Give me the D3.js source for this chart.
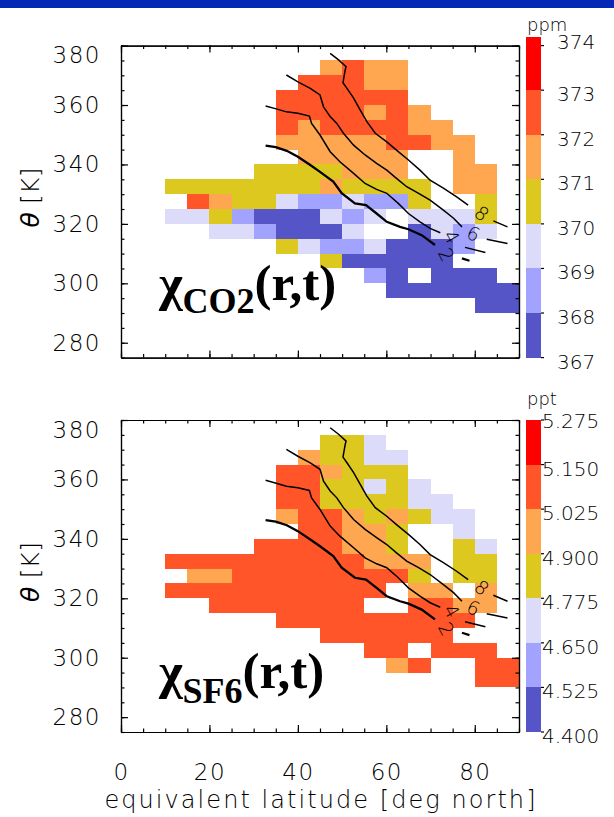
<!DOCTYPE html>
<html>
<head>
<meta charset="utf-8">
<script src="https://cdn.jsdelivr.net/npm/d3@7"></script>
<style>
  body { margin: 0; background: #fff; }
</style>
</head>
<body>
<div id="chart"></div>
<script>
// cell lower edges (5 deg x 5 K boxes)
const latEdges = [10, 15, 20, 25, 30, 35, 40, 45, 50, 55, 60, 65, 70, 75, 80, 85];
const thetaRows = [370, 365, 360, 355, 350, 345, 340, 335, 330, 325, 320, 315, 310, 305, 300, 295, 290];

const xTicks = [0, 20, 40, 60, 80];
const yTicks = [280, 300, 320, 340, 360, 380];

const co2Levels = [367, 368, 369, 370, 371, 372, 373, 374];
const co2Labels = ['367', '368', '369', '370', '371', '372', '373', '374'];
const sf6Levels = [4.400, 4.525, 4.650, 4.775, 4.900, 5.025, 5.150, 5.275];
const sf6Labels = ['4.400', '4.525', '4.650', '4.775', '4.900', '5.025', '5.150', '5.275'];

const bandColors = ['#5555c8', '#a2a2ff', '#dcdcfa', '#dcc81e', '#ffa650', '#ff5528', '#ff0000'];

const _ = null;
// CO2 mixing ratio, ppm (rows = thetaRows, columns = latEdges)
const co2Grid = [
  [_, _, _, _, _, _, _, 371.5, 372.5, 371.5, 371.5, _, _, _, _, _],
  [_, _, _, _, _, _, 372.5, 372.5, 372.5, 371.5, 371.5, _, _, _, _, _],
  [_, _, _, _, _, 372.5, 372.5, 372.5, 372.5, 372.5, 372.5, _, _, _, _, _],
  [_, _, _, _, _, 372.5, 372.5, 372.5, 372.5, 371.5, 372.5, 371.5, _, _, _, _],
  [_, _, _, _, _, 372.5, 371.5, 372.5, 372.5, 372.5, 372.5, 371.5, 371.5, _, _, _],
  [_, _, _, _, _, 371.5, 371.5, 371.5, 371.5, 371.5, 372.5, 372.5, 371.5, 371.5, _, _],
  [_, _, _, _, _, _, 371.5, 371.5, 371.5, 371.5, 371.5, _, _, 371.5, _, _],
  [_, _, _, _, 370.5, 370.5, 370.5, 370.5, 371.5, 371.5, 371.5, _, _, 371.5, 371.5, _],
  [370.5, 370.5, 370.5, 370.5, 370.5, 370.5, 370.5, 371.5, 370.5, 370.5, 370.5, 370.5, _, 371.5, 371.5, _],
  [_, 372.5, 371.5, 370.5, 370.5, 369.5, 368.5, 368.5, 369.5, 368.5, 368.5, 370.5, _, _, 370.5, _],
  [369.5, 369.5, 370.5, 368.5, 367.5, 367.5, 367.5, 369.5, 368.5, 369.5, _, 369.5, 369.5, 369.5, 370.5, _],
  [_, _, 369.5, 369.5, 368.5, 367.5, 367.5, 367.5, 369.5, _, _, 367.5, 369.5, 368.5, 369.5, _],
  [_, _, _, _, _, 370.5, 369.5, 368.5, 368.5, 369.5, 367.5, 367.5, 367.5, 368.5, _, _],
  [_, _, _, _, _, _, _, 370.5, 367.5, 367.5, 367.5, 367.5, 367.5, _, _, _],
  [_, _, _, _, _, _, _, _, _, 368.5, 367.5, _, 367.5, 367.5, 367.5, _],
  [_, _, _, _, _, _, _, _, _, _, 367.5, 367.5, 367.5, 367.5, 367.5, 367.5],
  [_, _, _, _, _, _, _, _, _, _, _, _, _, _, 367.5, 367.5]
];

// SF6 mixing ratio, ppt
const sf6Grid = [
  [_, _, _, _, _, _, _, 4.84, 4.84, 4.71, _, _, _, _, _, _],
  [_, _, _, _, _, _, 4.96, 4.84, 4.84, 4.71, 4.71, _, _, _, _, _],
  [_, _, _, _, _, 5.09, 5.09, 4.96, 4.84, 4.84, 4.84, _, _, _, _, _],
  [_, _, _, _, _, 5.09, 5.09, 4.84, 4.84, 4.71, 4.84, 4.71, _, _, _, _],
  [_, _, _, _, _, 5.09, 5.09, 4.84, 4.84, 4.84, 4.84, 4.71, 4.71, _, _, _],
  [_, _, _, _, _, 4.96, 5.09, 5.09, 4.96, 4.84, 4.96, 4.84, 4.71, 4.71, _, _],
  [_, _, _, _, _, _, 5.09, 5.09, 4.96, 4.96, 4.84, _, _, 4.71, _, _],
  [_, _, _, _, 5.09, 5.09, 5.09, 5.09, 4.96, 4.96, 4.84, _, _, 4.84, 4.71, _],
  [5.09, 5.09, 5.09, 5.09, 5.09, 5.09, 5.09, 5.09, 5.09, 4.96, 4.96, 4.96, _, 4.84, 4.84, _],
  [_, 4.96, 4.96, 5.09, 5.09, 5.09, 5.09, 5.09, 5.09, 5.09, 5.09, 4.84, _, 4.84, 4.84, _],
  [5.09, 5.09, 5.09, 5.09, 5.09, 5.09, 5.09, 5.09, 5.09, 5.09, _, 4.96, 4.96, _, 4.96, _],
  [_, _, 5.09, 5.09, 5.09, 5.09, 5.09, 5.09, 5.09, _, _, 5.09, 5.09, 4.96, 4.96, _],
  [_, _, _, _, _, 5.09, 5.09, 5.09, 5.09, 5.09, 5.09, 5.09, 5.09, 5.09, _, _],
  [_, _, _, _, _, _, _, 5.09, 5.09, 5.09, 5.09, 5.09, 5.09, _, _, _],
  [_, _, _, _, _, _, _, _, _, 5.09, 5.09, _, 5.09, 5.09, 5.09, _],
  [_, _, _, _, _, _, _, _, _, _, 4.96, 5.09, _, _, 5.09, 5.09],
  [_, _, _, _, _, _, _, _, _, _, _, _, _, _, 5.09, 5.09]
];

// contour lines [lat, theta], with the short piece after each label
const contourLabels = ['2', '4', '6', '8'];
const contourLines = [
  [[32.7,346.3],[35.0,345.8],[37.5,344.6],[40.0,342.6],[42.8,339.8],[45.0,337.5],[48.0,334.2],[49.9,330.3],[52.9,326.9],[55.4,326.3],[57.8,323.5],[60.1,320.7],[63.1,319.0],[65.0,318.2],[68.0,316.2],[71.0,312.9]],
  [[32.7,359.7],[35.1,358.7],[37.4,357.7],[40.0,357.2],[42.6,356.3],[43.1,353.8],[45.0,349.9],[47.3,344.3],[49.5,340.9],[52.6,337.0],[55.2,333.6],[57.8,331.6],[60.1,330.3],[62.7,326.9],[65.0,323.5],[67.6,320.7],[69.9,318.5],[72.2,317.0]],
  [[37.4,370.1],[40.0,367.8],[42.8,365.6],[45.0,363.4],[45.8,359.4],[47.3,356.1],[48.8,353.8],[50.3,350.5],[52.6,346.5],[55.2,343.2],[57.8,340.4],[60.1,338.1],[62.3,335.3],[64.6,332.5],[67.3,330.3],[69.9,328.0],[72.9,324.6],[75.2,321.9],[77.1,319.0]],
  [[47.3,377.4],[49.2,375.2],[50.9,372.9],[50.7,371.8],[50.2,367.5],[51.1,365.6],[52.6,362.3],[54.1,358.3],[55.6,354.4],[57.5,350.5],[60.1,347.6],[62.3,344.8],[65.0,341.5],[67.6,338.1],[69.9,334.7],[72.9,332.0],[75.9,329.1],[78.5,326.3]]
];
const contourTails = [
  [[77.1,308.4],[78.8,307.6]],
  [[77.8,312.1],[82.4,310.4]],
  [[82.7,314.8],[87.4,313.4]],
  [[84.2,321.0],[87.4,319.0]]
];
const contourLabelPos = [[73.6,309.7],[74.8,315.7],[79.7,316.8],[81.6,323.6]];

const W = 614, H = 817;
const SANS = '"DejaVu Sans", sans-serif';
const SERIF = '"Liberation Serif", "Times New Roman", Times, serif';
const svg = d3.select('#chart').append('svg').attr('width', W).attr('height', H)
  .attr('font-family', SANS);

svg.append('rect').attr('x', 0).attr('y', 0).attr('width', W).attr('height', 8).attr('fill', '#0626b6');

const plotLeft = 121, plotW = 398, plotH = 312;
const x = d3.scaleLinear().domain([0, 90]).range([plotLeft, plotLeft + plotW]);

const panels = [
  { top: 45.6, grid: co2Grid, levels: co2Levels, labels: co2Labels, unit: 'ppm', sub: 'CO2',
    cbExtra: 8.5, cbLabelX: 557, topLabDy: -4, xLabels: false, textY: 300, subDy: 13 },
  { top: 420, grid: sf6Grid, levels: sf6Levels, labels: sf6Labels, unit: 'ppt', sub: 'SF6',
    cbExtra: 0, cbLabelX: 542, topLabDy: 1, xLabels: true, textY: 688, subDy: 15 }
];

panels.forEach(p => {
  const y = d3.scaleLinear().domain([275, 380]).range([p.top + plotH, p.top]);
  const color = d3.scaleThreshold().domain(p.levels.slice(1, -1)).range(bandColors);
  const g = svg.append('g');

  // cells
  const cells = [];
  p.grid.forEach((row, i) => row.forEach((v, j) => {
    if (v !== null) cells.push({ lat: latEdges[j], th: thetaRows[i], v });
  }));
  g.append('g').attr('shape-rendering', 'crispEdges')
    .selectAll('rect').data(cells).enter().append('rect')
    .attr('x', d => x(d.lat))
    .attr('y', d => y(d.th + 5))
    .attr('width', d => x(d.lat + 5) - x(d.lat))
    .attr('height', d => y(d.th) - y(d.th + 5))
    .attr('fill', d => color(d.v));

  // contours
  const line = d3.line().x(d => x(d[0])).y(d => y(d[1]));
  contourLines.forEach((c, k) => {
    const sw = k === 0 ? 2.3 : 1.5;
    g.append('path').attr('d', line(c)).attr('fill', 'none').attr('stroke', '#000').attr('stroke-width', sw);
    g.append('path').attr('d', line(contourTails[k])).attr('fill', 'none').attr('stroke', '#000').attr('stroke-width', sw);
  });
  const rot = [62, 60, 25, 40];
  contourLabels.forEach((t, k) => {
    const px = x(contourLabelPos[k][0]), py = y(contourLabelPos[k][1]);
    g.append('text').attr('x', px).attr('y', py)
      .attr('text-anchor', 'middle').attr('dominant-baseline', 'central')
      .attr('font-size', 19).attr('font-weight', 300)
      .attr('transform', `rotate(${rot[k]},${px},${py})`)
      .text(t);
  });

  // axes
  const minorX = d3.range(0, 91, 5), minorY = d3.range(275, 381, 5);
  const ax = (a, s, vals, len) => a(s).tickValues(vals).tickSizeInner(-len).tickSizeOuter(0).tickFormat('');
  g.append('g').attr('transform', `translate(0,${p.top + plotH})`).call(ax(d3.axisBottom, x, minorX, 3.5));
  g.append('g').attr('transform', `translate(0,${p.top})`).call(ax(d3.axisTop, x, minorX, 3.5));
  g.append('g').attr('transform', `translate(0,${p.top})`).call(ax(d3.axisTop, x, xTicks, 7));
  g.append('g').attr('transform', `translate(${plotLeft},0)`).call(ax(d3.axisLeft, y, minorY, 3.5));
  g.append('g').attr('transform', `translate(${plotLeft + plotW},0)`).call(ax(d3.axisRight, y, minorY, 3.5));
  g.append('g').attr('transform', `translate(${plotLeft + plotW},0)`).call(ax(d3.axisRight, y, yTicks, 7));

  const bx = g.append('g').attr('transform', `translate(0,${p.top + plotH})`)
    .call(d3.axisBottom(x).tickValues(xTicks).tickSizeInner(-7).tickSizeOuter(0).tickPadding(32)
      .tickFormat(p.xLabels ? d3.format('d') : ''));
  const ly = g.append('g').attr('transform', `translate(${plotLeft},0)`)
    .call(d3.axisLeft(y).tickValues(yTicks).tickSizeInner(-7).tickSizeOuter(0).tickPadding(20).tickFormat(d3.format('d')));

  [bx, ly].forEach(a => {
    a.attr('font-family', SANS);
    a.selectAll('text').attr('font-size', 23).attr('font-weight', 300).attr('letter-spacing', 1.5)
      .attr('fill', '#000');
  });
  ly.selectAll('.tick text').filter(d => d === 380).attr('dy', '0.75em');
  g.selectAll('.domain, .tick line').attr('stroke', '#000').attr('stroke-width', 1.2);

  // y axis title
  const yt = g.append('text')
    .attr('transform', `translate(39,${p.top + 152}) rotate(-90)`)
    .attr('text-anchor', 'middle').attr('font-size', 25)
    .attr('textLength', 60).attr('lengthAdjust', 'spacing');
  yt.append('tspan').attr('font-style', 'italic').attr('font-weight', 'normal').text('θ');
  yt.append('tspan').attr('font-weight', 300).text(' [K]');

  // big label
  const lab = g.append('text').attr('x', 159).attr('y', p.textY)
    .attr('font-family', SERIF).attr('font-weight', 'bold').attr('font-size', 51);
  lab.append('tspan').attr('font-family', SERIF).text('χ');
  lab.append('tspan').attr('font-family', SERIF).attr('font-size', 36).attr('dy', p.subDy).text(p.sub);
  lab.append('tspan').attr('font-family', SERIF).attr('dy', -p.subDy).text('(r,t)');

  // colour bar
  const cb = d3.scaleLinear().domain([p.levels[0], p.levels[7]]).range([p.top + plotH, p.top]);
  const cbX = 526, cbW = 15;
  const bands = d3.range(7).map(i => ({ lo: p.levels[i], hi: p.levels[i + 1], c: bandColors[i] }));
  g.append('g').attr('shape-rendering', 'crispEdges')
    .selectAll('rect').data(bands).enter().append('rect')
    .attr('x', cbX).attr('width', cbW)
    .attr('y', (d, i) => cb(d.hi) - (i === 6 ? p.cbExtra : 0))
    .attr('height', (d, i) => cb(d.lo) - cb(d.hi) + (i === 6 ? p.cbExtra : 0))
    .attr('fill', d => d.c);
  g.selectAll('.cbtick').data(p.levels).enter().append('line')
    .attr('x1', cbX + cbW).attr('x2', cbX + cbW + 3)
    .attr('y1', d => cb(d)).attr('y2', d => cb(d))
    .attr('stroke', '#000').attr('stroke-width', 1.2);
  g.selectAll('.cblab').data(p.levels).enter().append('text')
    .attr('x', p.cbLabelX).attr('y', (d, i) => cb(d) + (i === 7 ? p.topLabDy : 4))
    .attr('dominant-baseline', 'central')
    .attr('font-size', 20).attr('font-weight', 300)
    .text((d, i) => p.labels[i]);
  g.append('text').attr('x', 527).attr('y', p.top - 15)
    .attr('font-size', 18).attr('font-weight', 300).text(p.unit);
});

svg.append('text').attr('x', 320).attr('y', 808)
  .attr('text-anchor', 'middle').attr('font-size', 24).attr('font-weight', 300)
  .attr('textLength', 431).attr('lengthAdjust', 'spacing')
  .text('equivalent latitude [deg north]');
</script>
</body>
</html>
